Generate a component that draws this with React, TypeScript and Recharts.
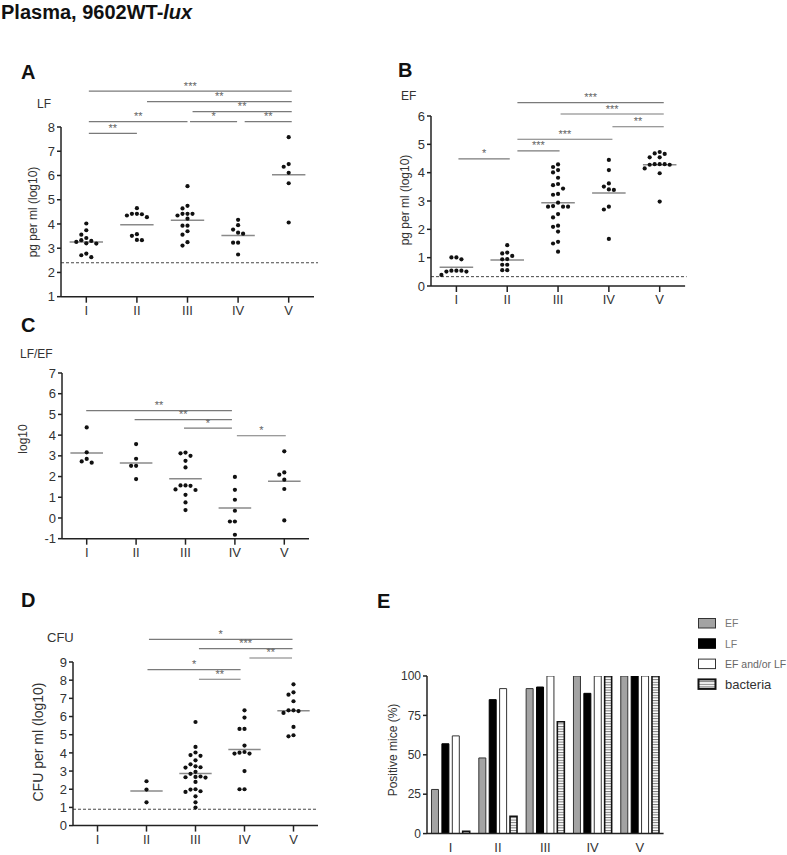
import React from 'react';
import { ScatterChart, Scatter, XAxis, YAxis, ReferenceLine, BarChart, Bar } from 'recharts';

const FONT = '"Liberation Sans", Arial, Helvetica, sans-serif';

// ---------- data ----------
const groups = ['I', 'II', 'III', 'IV', 'V'];

// Panel A: LF, pg per ml (log10)
const lfByGroup: number[][] = [
  [4.02, 3.74, 3.56, 3.42, 3.33, 3.3, 3.26, 3.2, 3.19, 2.78, 2.71, 2.63],
  [4.65, 4.42, 4.42, 4.4, 4.35, 4.28, 3.58, 3.51, 3.34, 3.33],
  [5.56, 4.75, 4.64, 4.42, 4.42, 4.42, 4.35, 4.22, 3.93, 3.93, 3.7, 3.56, 3.25, 3.11],
  [4.17, 3.95, 3.77, 3.64, 3.6, 3.23, 3.23, 2.74],
  [7.58, 6.47, 6.36, 6.11, 5.68, 4.06],
];
const lfMeans = [3.26, 3.97, 4.15, 3.52, 6.03];
const lfLimit = 2.4;
const lfComparisons = [
  { from: 1.05, to: 5.06, level: 9.48, mark: '***' },
  { from: 2.2, to: 5.06, level: 9.05, mark: '**' },
  { from: 3.1, to: 5.06, level: 8.63, mark: '**' },
  { from: 1.05, to: 3.0, level: 8.22, mark: '**' },
  { from: 3.05, to: 3.98, level: 8.22, mark: '*' },
  { from: 4.13, to: 5.06, level: 8.22, mark: '**' },
  { from: 1.05, to: 2.0, level: 7.74, mark: '**' },
];

// Panel B: EF, pg per ml (log10)
const efByGroup: number[][] = [
  [1.01, 0.94, 1.01, 0.54, 0.51, 0.39, 0.51, 0.54, 0.54],
  [1.44, 1.18, 1.15, 1.06, 0.95, 0.94, 0.75, 0.75, 0.56, 0.56],
  [4.29, 4.2, 4.09, 4.01, 3.82, 3.6, 3.56, 3.44, 3.25, 3.22, 2.94, 2.82, 2.8, 2.8, 2.8, 2.54, 2.42, 2.13, 2.09, 1.92, 1.56, 1.5, 1.21],
  [4.45, 4.09, 3.62, 3.51, 3.41, 3.39, 2.8, 2.7, 1.66],
  [4.73, 4.68, 4.66, 4.54, 4.54, 4.3, 4.3, 4.3, 4.28, 4.28, 4.15, 3.98, 2.98],
];
const efMeans = [0.66, 0.92, 2.94, 3.28, 4.28];
const efLimit = 0.33;
const efComparisons = [
  { from: 2.2, to: 5.08, level: 6.47, mark: '***' },
  { from: 3.05, to: 5.08, level: 6.07, mark: '***' },
  { from: 4.07, to: 5.08, level: 5.62, mark: '**' },
  { from: 2.2, to: 4.07, level: 5.18, mark: '***' },
  { from: 2.2, to: 3.03, level: 4.77, mark: '***' },
  { from: 1.04, to: 2.05, level: 4.49, mark: '*' },
];

// Panel C: LF/EF, log10
const ratioByGroup: number[][] = [
  [4.37, 3.17, 2.85, 2.73, 2.67],
  [3.57, 2.86, 2.52, 2.52, 1.88],
  [3.16, 3.12, 3.0, 2.76, 2.44, 1.57, 1.57, 1.55, 1.38, 1.35, 1.12, 0.75, 0.38],
  [1.98, 1.36, 0.88, 0.35, -0.17, -0.17, -0.81],
  [3.22, 2.2, 2.09, 1.85, 1.4, -0.12],
];
const ratioMeans = [3.14, 2.65, 1.9, 0.48, 1.77];
const ratioComparisons = [
  { from: 0.99, to: 3.94, level: 5.18, mark: '**' },
  { from: 1.97, to: 3.94, level: 4.75, mark: '**' },
  { from: 2.97, to: 3.94, level: 4.34, mark: '*' },
  { from: 4.04, to: 5.03, level: 3.97, mark: '*' },
];

// Panel D: CFU per ml (log10)
const cfuByGroup: number[][] = [
  [],
  [2.44, 1.98, 1.28],
  [5.7, 4.33, 4.02, 3.88, 3.84, 3.59, 3.37, 3.26, 3.21, 3.19, 2.96, 2.85, 2.7, 2.68, 2.66, 2.64, 2.4, 2.0, 1.98, 1.89, 1.85, 1.61, 1.28, 0.99],
  [6.34, 5.94, 5.32, 5.32, 4.4, 4.05, 4.01, 3.96, 3.96, 3.0, 2.0, 2.0],
  [7.77, 7.33, 7.2, 6.84, 6.34, 6.34, 6.3, 6.2, 5.43, 4.97, 4.91],
];
const cfuMeans: (number | null)[] = [null, 1.91, 2.86, 4.18, 6.32];
const cfuLimit = 0.9;
const cfuComparisons = [
  { from: 2.05, to: 4.98, level: 10.25, mark: '*' },
  { from: 3.07, to: 4.98, level: 9.74, mark: '***' },
  { from: 4.1, to: 4.97, level: 9.22, mark: '**' },
  { from: 2.02, to: 3.92, level: 8.58, mark: '*' },
  { from: 3.07, to: 3.92, level: 8.05, mark: '**' },
];

// Panel E: positive mice (%)
const efPositive = [28, 48, 92, 100, 100];
const lfPositive = [57, 85, 93, 89, 100];
const eitherPositive = [62, 92, 100, 100, 100];
const bacteriaPositive = [1.5, 11, 71, 100, 100];
const positiveSeries = [
  { key: 'EF', name: 'EF', fill: '#a3a3a3', stroke: '#333', sw: 1, values: efPositive, labelSize: 10.5, labelColor: '#777' },
  { key: 'LF', name: 'LF', fill: '#000', stroke: '#000', sw: 1, values: lfPositive, labelSize: 10.5, labelColor: '#777' },
  { key: 'EITHER', name: 'EF and/or LF', fill: '#fff', stroke: '#333', sw: 1, values: eitherPositive, labelSize: 10.5, labelColor: '#666' },
  { key: 'BAC', name: 'bacteria', fill: 'url(#hstripe)', stroke: '#111', sw: 1.6, values: bacteriaPositive, labelSize: 13, labelColor: '#333' },
];
const positiveTable = groups.map((g, i) => {
  const row: any = { group: g };
  positiveSeries.forEach((s) => { row[s.key] = s.values[i]; });
  return row;
});

// ---------- layout helpers ----------
const ML = 20, YW = 40, MT = 80, MR = 20, XH = 30, MB = 10;

function swarm(values: number[], pxPerY: number, pxPerX: number) {
  const step = 5, diam = 4.8;
  const sorted = [...values].sort((a, b) => b - a);
  const placed: { x: number; y: number }[] = [];
  const out: { dx: number; v: number }[] = [];
  for (const v of sorted) {
    const ypx = v * pxPerY;
    for (let k = 0; k < 40; k++) {
      const off = k === 0 ? 0 : (k % 2 === 1 ? -1 : 1) * Math.ceil(k / 2) * step;
      if (placed.every((p) => (p.x - off) ** 2 + (p.y - ypx) ** 2 >= diam * diam)) {
        placed.push({ x: off, y: ypx });
        out.push({ dx: off / pxPerX, v });
        break;
      }
    }
  }
  return out;
}

const Dot = (p: any) => <circle cx={p.cx} cy={p.cy} r={2.1} fill="#111" />;

const axisStyle = { stroke: '#222', strokeWidth: 1.5 };

type Cmp = { from: number; to: number; level: number; mark: string };

function DotPanel(props: {
  box: number[]; domain: number[]; ticks: number[]; data: number[][];
  means: (number | null)[]; comparisons: Cmp[]; limit?: number; limitEnd?: number;
}) {
  const { box, domain, ticks, data, means, comparisons, limit, limitEnd } = props;
  const [x0, y0, x1, y1] = box;
  const width = x1 - x0 + ML + YW + MR;
  const height = y1 - y0 + MT + XH + MB;
  const pxPerX = (x1 - x0) / 5;
  const pxPerY = (y1 - y0) / (domain[1] - domain[0]);
  const series = data.map((vals, gi) =>
    swarm(vals, pxPerY, pxPerX).map((p) => ({ x: gi + 1 + p.dx, y: p.v }))
  );
  return (
    <div style={{ position: 'absolute', left: x0 - ML - YW, top: y0 - MT }}>
      <ScatterChart width={width} height={height} margin={{ top: MT, right: MR, left: ML, bottom: MB }}>
        <XAxis
          type="number" dataKey="x" domain={[0.5, 5.5]} ticks={[1, 2, 3, 4, 5]} interval={0}
          allowDataOverflow height={XH} tickSize={6} tickMargin={3}
          tickFormatter={(v: number) => groups[v - 1]}
          axisLine={axisStyle} tickLine={axisStyle}
          tick={{ fontSize: 13, fill: '#333', fontFamily: FONT }}
        />
        <YAxis
          type="number" dataKey="y" domain={domain} ticks={ticks} interval={0}
          allowDataOverflow width={YW} tickSize={4} tickMargin={2}
          axisLine={axisStyle} tickLine={axisStyle}
          tick={{ fontSize: 13, fill: '#333', fontFamily: FONT }}
        />
        {limit != null && (
          <ReferenceLine
            segment={[{ x: 0.5, y: limit }, { x: limitEnd ?? 5.5, y: limit }]}
            stroke="#444" strokeWidth={1} strokeDasharray="3 2" ifOverflow="visible"
          />
        )}
        {means.map((m, i) =>
          m == null ? null : (
            <ReferenceLine
              key={'m' + i}
              segment={[{ x: i + 1 - 0.33, y: m }, { x: i + 1 + 0.33, y: m }]}
              stroke="#8a8a8a" strokeWidth={1.5} ifOverflow="visible"
            />
          )
        )}
        {comparisons.map((c, i) => (
          <ReferenceLine
            key={'c' + i}
            segment={[{ x: c.from, y: c.level }, { x: c.to, y: c.level }]}
            stroke="#7a7a7a" strokeWidth={1.2} ifOverflow="visible"
            label={{ value: c.mark, position: 'top', offset: 1.5, fontSize: 11, fill: '#666', fontFamily: FONT }}
          />
        ))}
        {series.map((pts, i) => (
          <Scatter key={'s' + i} data={pts} isAnimationActive={false} shape={Dot} />
        ))}
      </ScatterChart>
    </div>
  );
}

function BarPanel({ box }: { box: number[] }) {
  const [x0, y0, x1, y1] = box;
  const width = x1 - x0 + ML + YW + MR;
  const height = y1 - y0 + MT + XH + MB;
  return (
    <div style={{ position: 'absolute', left: x0 - ML - YW, top: y0 - MT }}>
      <BarChart
        width={width} height={height} data={positiveTable}
        margin={{ top: MT, right: MR, left: ML, bottom: MB }}
        barCategoryGap={4.5} barGap={3.4}
      >
        <XAxis
          dataKey="group" height={XH} tickSize={6} tickMargin={3} tickLine={false}
          axisLine={axisStyle} interval={0}
          tick={{ fontSize: 13, fill: '#333', fontFamily: FONT }}
        />
        <YAxis
          type="number" domain={[0, 100]} ticks={[0, 25, 50, 75, 100]} interval={0}
          allowDataOverflow width={YW} tickSize={4} tickMargin={2}
          axisLine={axisStyle} tickLine={axisStyle}
          tick={{ fontSize: 12, fill: '#333', fontFamily: FONT }}
        />
        {positiveSeries.map((s) => (
          <Bar key={s.key} dataKey={s.key} name={s.name} fill={s.fill} stroke={s.stroke}
            strokeWidth={s.sw} isAnimationActive={false} />
        ))}
      </BarChart>
    </div>
  );
}

function RotText({ x, y, size, children }: { x: number; y: number; size: number; children: any }) {
  return (
    <text x={x} y={y} transform={`rotate(-90 ${x} ${y})`} textAnchor="middle"
      dominantBaseline="central" fontSize={size} fill="#333">{children}</text>
  );
}

export default function App() {
  return (
    <div style={{ position: 'absolute', left: 0, top: 0, width: 787, height: 855, background: '#fff', fontFamily: FONT, overflow: 'hidden' }}>
      <DotPanel box={[61, 127.3, 314, 297]} domain={[1, 8]} ticks={[1, 2, 3, 4, 5, 6, 7, 8]}
        data={lfByGroup} means={lfMeans} comparisons={lfComparisons} limit={lfLimit} limitEnd={5.58} />
      <DotPanel box={[430.6, 116, 684.7, 286]} domain={[0, 6]} ticks={[0, 1, 2, 3, 4, 5, 6]}
        data={efByGroup} means={efMeans} comparisons={efComparisons} limit={efLimit} limitEnd={5.53} />
      <DotPanel box={[62, 373.3, 309, 539]} domain={[-1, 7]} ticks={[-1, 0, 1, 2, 3, 4, 5, 6, 7]}
        data={ratioByGroup} means={ratioMeans} comparisons={ratioComparisons} />
      <DotPanel box={[72.8, 661.7, 317.8, 825.3]} domain={[0, 9]} ticks={[0, 1, 2, 3, 4, 5, 6, 7, 8, 9]}
        data={cfuByGroup} means={cfuMeans} comparisons={cfuComparisons} limit={cfuLimit} limitEnd={5.5} />
      <BarPanel box={[426.7, 675.7, 663.3, 833.3]} />

      <svg width={787} height={855} style={{ position: 'absolute', left: 0, top: 0, pointerEvents: 'none' }}
        fontFamily={FONT}>
        <defs>
          <pattern id="hstripe" patternUnits="userSpaceOnUse" width={4} height={2.6}>
            <rect width={4} height={2.6} fill="#fff" />
            <rect y={0} width={4} height={1} fill="#777" />
          </pattern>
        </defs>
        <text x={1} y={19} fontSize={20} fontWeight="bold" fill="#111">
          Plasma, 9602WT-<tspan fontStyle="italic">lux</tspan>
        </text>

        <text x={21} y={79} fontSize={20} fontWeight="bold" fill="#111">A</text>
        <text x={398} y={77} fontSize={20} fontWeight="bold" fill="#111">B</text>
        <text x={21} y={332} fontSize={20} fontWeight="bold" fill="#111">C</text>
        <text x={21} y={607} fontSize={20} fontWeight="bold" fill="#111">D</text>
        <text x={377} y={608} fontSize={20} fontWeight="bold" fill="#111">E</text>

        <text x={37} y={108} fontSize={12} fill="#333">LF</text>
        <text x={401} y={100} fontSize={12} fill="#333">EF</text>
        <text x={20} y={358} fontSize={12} fill="#333">LF/EF</text>
        <text x={47} y={642} fontSize={13} fill="#333">CFU</text>

        <RotText x={33} y={212} size={12}>pg per ml (log10)</RotText>
        <RotText x={405} y={200} size={12}>pg per ml (log10)</RotText>
        <RotText x={23} y={439} size={12}>log10</RotText>
        <RotText x={38} y={742} size={14}>CFU per ml (log10)</RotText>
        <RotText x={393} y={750} size={12}>Positive mice (%)</RotText>

        {positiveSeries.map((s, i) => (
          <g key={s.key}>
            <rect x={698.5} y={618.5 + i * 20.3} width={17} height={9.5} fill={s.fill}
              stroke={s.key === 'LF' ? '#000' : s.stroke} strokeWidth={s.key === 'BAC' ? 2 : 1} />
            <text x={725} y={623.3 + i * 20.3} dominantBaseline="central" fontSize={s.labelSize} fill={s.labelColor}>
              {s.name}
            </text>
          </g>
        ))}
      </svg>
    </div>
  );
}
